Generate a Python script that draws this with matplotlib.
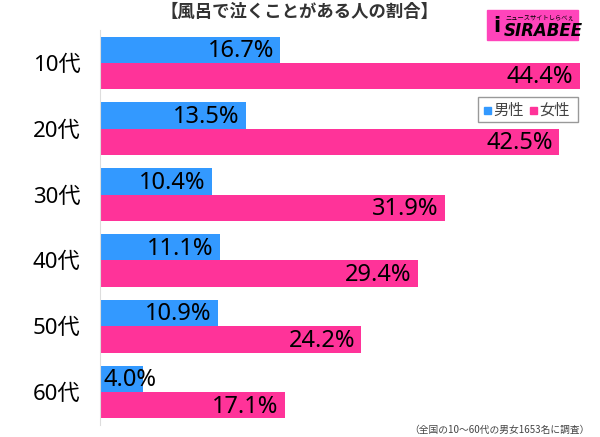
import matplotlib
matplotlib.use('Agg')

import numpy as np
import matplotlib.pyplot as plt
from matplotlib.patches import Rectangle

plt.rcParams['font.family'] = ['Noto Sans CJK JP', 'DejaVu Sans']

ages = ['10代', '20代', '30代', '40代', '50代', '60代']
male = [16.7, 13.5, 10.4, 11.1, 10.9, 4.0]
female = [44.4, 42.5, 31.9, 29.4, 24.2, 17.1]

blue = '#3399ff'
pink = '#ff3399'
num_font = ['Noto Sans', 'Noto Sans CJK JP']

fig = plt.figure(figsize=(6, 4.37), dpi=100)
ax = fig.add_axes([100 / 600, 1 - 425 / 437, 486 / 600, 395 / 437])

y = np.arange(len(ages))
h = 0.4
ax.barh(y - h / 2, male, height=h, color=blue)
ax.barh(y + h / 2, female, height=h, color=pink)

for i in range(len(ages)):
    for v, yy in ((male[i], y[i] - h / 2), (female[i], y[i] + h / 2)):
        txt = f'{v:.1f}%'
        if v < 8:
            ax.text(0.3, yy + 0.02, txt, ha='left', va='center', fontsize=17,
                    color='black', family=num_font)
        else:
            ax.text(v - 0.6, yy + 0.02, txt, ha='right', va='center', fontsize=17,
                    color='black', family=num_font)

ax.set_xlim(0, 45)
ax.set_ylim(len(ages) - 0.5, -0.5)
ax.set_yticks(y)
ax.set_yticklabels(ages, fontsize=16, family=num_font)
ax.tick_params(axis='y', length=0, pad=14)
ax.set_xticks([])
for s in ['top', 'right', 'bottom']:
    ax.spines[s].set_visible(False)
ax.spines['left'].set_color('#dddddd')

# legend
fig.patches.append(Rectangle((478 / 600, 1 - 122 / 437), 100 / 600, 25 / 437,
                             transform=fig.transFigure, facecolor='white',
                             edgecolor='#999999', linewidth=1))
fig.patches.append(Rectangle((484 / 600, 1 - 114 / 437), 7 / 600, 7 / 437,
                             transform=fig.transFigure, color=blue))
fig.text(493 / 600, 1 - 110 / 437, '男性', fontsize=11, va='center', color='#444444')
fig.patches.append(Rectangle((530 / 600, 1 - 114 / 437), 7 / 600, 7 / 437,
                             transform=fig.transFigure, color=pink))
fig.text(539 / 600, 1 - 110 / 437, '女性', fontsize=11, va='center', color='#444444')

# title
fig.text(0.5, 1 - 12 / 437, '【風呂で泣くことがある人の割合】', ha='center', va='center',
         fontsize=12.5, fontweight='bold', color='#333333')

# logo
fig.patches.append(Rectangle((487 / 600, 1 - 40 / 437), 91 / 600, 30 / 437,
                             transform=fig.transFigure, color='#ff44bb'))
fig.text(540 / 600, 1 - 17 / 437, 'ニュースサイトしらべぇ', ha='center', va='center',
         fontsize=4.5, color='black')
fig.text(543 / 600, 1 - 31 / 437, 'SIRABEE', ha='center', va='center',
         fontsize=12, fontweight='bold', style='italic', color='black', family='DejaVu Sans')
fig.text(497 / 600, 1 - 26 / 437, 'i', ha='center', va='center',
         fontsize=15, fontweight='bold', color='black', family='DejaVu Sans')

# footnote
fig.text(590 / 600, 1 - 430 / 437, '（全国の10～60代の男女1653名に調査）', ha='right', va='center',
         fontsize=7, color='#444444')

plt.savefig('out.png', dpi=100)
